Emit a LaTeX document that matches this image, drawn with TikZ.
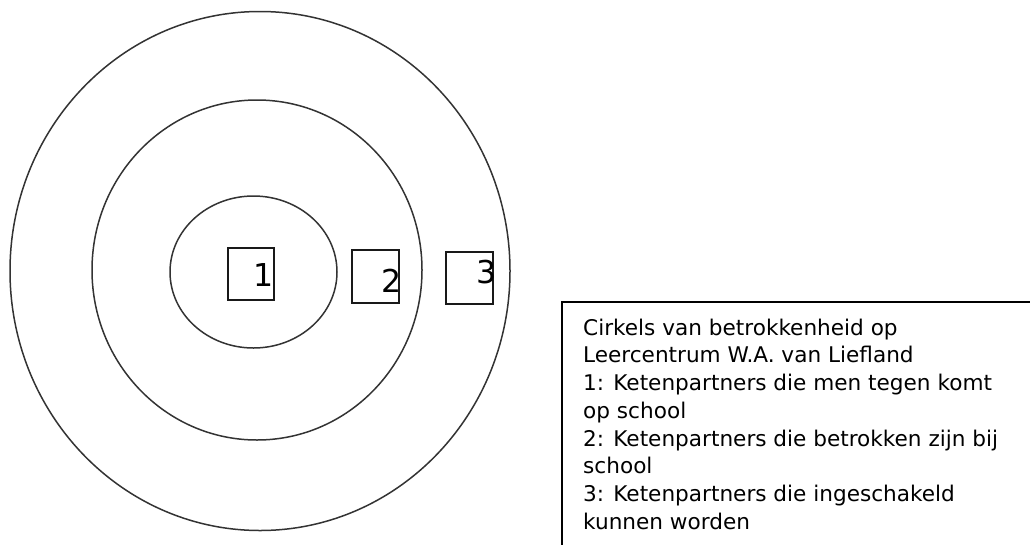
\documentclass[tikz,border=0pt]{standalone}
\usepackage{fontspec}
\setmainfont{DejaVu Sans}
\usetikzlibrary{calc,positioning}

\begin{document}
\begin{tikzpicture}[x=1pt,y=-1pt,
	ring/.style={draw=black!80,line width=1.5pt},
	numbox/.style={draw=black!90,line width=1.6pt,rectangle,inner sep=0pt},
	numlabel/.style={inner sep=0pt,font=\fontsize{31.5}{36}\selectfont},
	legend/.style={inner sep=0pt,align=left,font=\fontsize{21.6}{27.7}\selectfont},
	frame/.style={draw=black,line width=1.8pt}]
	\useasboundingbox (0,0) rectangle (1030,544);
	\draw[ring] (260,271) ellipse [x radius=250,y radius=259.5];
	\draw[ring] (257,270) ellipse [x radius=165,y radius=170];
	\draw[ring] (253.5,272) ellipse [x radius=83.5,y radius=76];
	\node[numbox,minimum width=46pt,minimum height=52pt] (box1) at (251,274) {};
	\node[numbox,minimum width=47pt,minimum height=53pt] (box2) at (375.5,276.5) {};
	\node[numbox,minimum width=47pt,minimum height=52pt] (box3) at (469.5,278) {};
	\node[numlabel,anchor=base east] (num1) at ($(box1.south east)+(-1,-14)$) {1};
	\node[numlabel,anchor=base east] (num2) at ($(box2.south east)+(2,-11)$) {2};
	\node[numlabel,anchor=base east] (num3) at ($(box3.south east)+(3,-21)$) {3};
	\coordinate (legendcorner) at (562,302);
	\draw[frame] (1040,302) -- (legendcorner) -- (562,560);
	\node[legend,anchor=north west] (legendtext) at (583,318.6) {Cirkels van betrokkenheid op\\
		Leercentrum W.A. van Liefland\\
		1: Ketenpartners die men tegen komt\\
		op school\\
		2: Ketenpartners die betrokken zijn bij\\
		school\\
		3: Ketenpartners die ingeschakeld\\
		kunnen worden};
\end{tikzpicture}
\end{document}
